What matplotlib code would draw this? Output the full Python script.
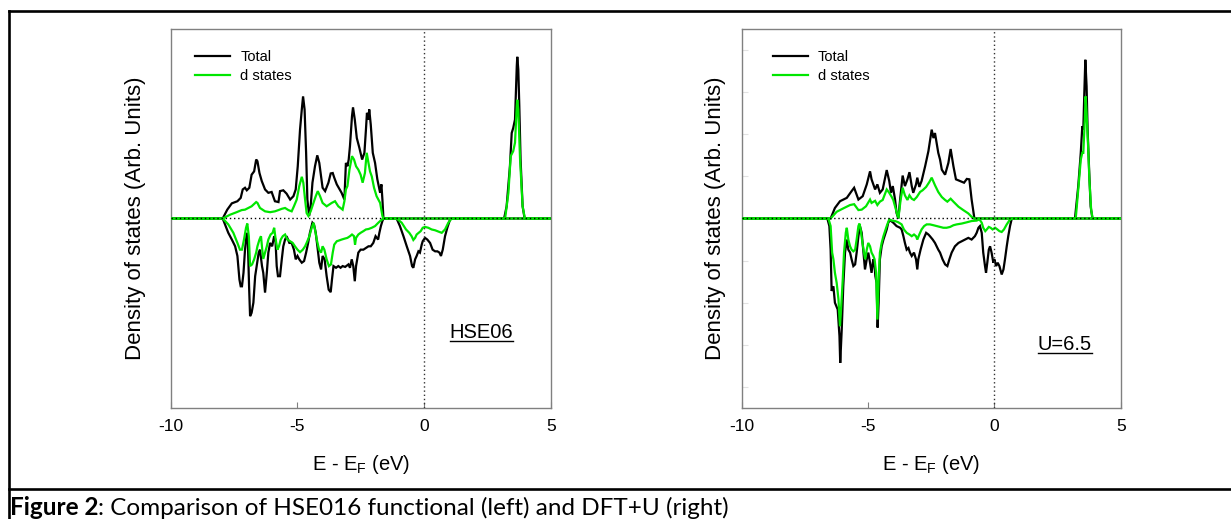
import matplotlib
matplotlib.use('Agg')
import matplotlib.pyplot as plt
from matplotlib.lines import Line2D

# ---------------- data (E - EF in eV, DOS in arb. units) ----------------
hse_up_total = [(-10, 0), (-7.95, 0), (-7.77, 0.21), (-7.59, 0.36), (-7.37, 0.41), (-7.24, 0.49), (-7.16, 0.69),
    (-7.07, 0.73), (-7.00, 0.67), (-6.90, 0.73), (-6.81, 1.04), (-6.71, 1.12), (-6.63, 1.40), (-6.58, 1.36),
    (-6.50, 1.08), (-6.41, 0.89), (-6.28, 0.69), (-6.15, 0.61), (-6.02, 0.63), (-5.89, 0.41), (-5.75, 0.39),
    (-5.69, 0.65), (-5.56, 0.67), (-5.43, 0.59), (-5.29, 0.45), (-5.16, 0.53), (-5.07, 0.69), (-4.99, 1.24),
    (-4.90, 2.11), (-4.83, 2.59), (-4.78, 2.90), (-4.72, 2.59), (-4.66, 1.56), (-4.61, 0.45), (-4.54, 0.06),
    (-4.48, 0.29), (-4.41, 0.85), (-4.31, 1.24), (-4.22, 1.50), (-4.14, 1.32), (-4.07, 1.00), (-4.01, 0.73),
    (-3.91, 0.65), (-3.78, 0.85), (-3.69, 1.07), (-3.61, 1.08), (-3.55, 0.97), (-3.45, 0.81), (-3.26, 0.61),
    (-3.15, 0.45), (-3.09, 1.32), (-3.03, 1.24), (-2.98, 1.40), (-2.93, 1.72), (-2.85, 2.43), (-2.81, 2.64),
    (-2.74, 2.35), (-2.66, 1.91), (-2.56, 1.68), (-2.45, 1.40), (-2.36, 1.56), (-2.30, 2.11), (-2.26, 2.51),
    (-2.20, 2.35), (-2.17, 2.59), (-2.11, 2.23), (-2.03, 1.56), (-1.94, 1.32), (-1.85, 0.93), (-1.74, 0.61),
    (-1.69, 0.81), (-1.65, 0.45), (-1.61, 0), (3.15, 0), (3.25, 0.29), (3.38, 1.24), (3.45, 2.03), (3.51, 2.15),
    (3.58, 2.35), (3.65, 3.62), (3.67, 3.84), (3.71, 3.54), (3.75, 2.67), (3.80, 1.40), (3.88, 0.29), (3.96, 0),
    (5, 0)]

hse_up_d = [(-10, 0), (-7.95, 0), (-7.66, 0.09), (-7.40, 0.15), (-7.20, 0.20), (-7.07, 0.21), (-6.94, 0.25),
    (-6.81, 0.29), (-6.63, 0.39), (-6.58, 0.37), (-6.48, 0.25), (-6.28, 0.17), (-6.08, 0.15), (-5.89, 0.17),
    (-5.75, 0.20), (-5.62, 0.23), (-5.49, 0.25), (-5.36, 0.20), (-5.23, 0.17), (-5.14, 0.29), (-5.03, 0.45),
    (-4.93, 0.77), (-4.83, 0.99), (-4.77, 0.85), (-4.70, 0.45), (-4.64, 0.13), (-4.57, 0.06), (-4.48, 0.17),
    (-4.37, 0.37), (-4.28, 0.53), (-4.20, 0.65), (-4.11, 0.53), (-4.01, 0.37), (-3.85, 0.29), (-3.65, 0.37),
    (-3.52, 0.41), (-3.39, 0.29), (-3.22, 0.21), (-3.15, 0.41), (-3.09, 0.69), (-3.03, 0.77), (-2.95, 1.16),
    (-2.85, 1.48), (-2.77, 1.40), (-2.69, 1.24), (-2.60, 1.16), (-2.51, 1.04), (-2.43, 0.85), (-2.34, 1.08),
    (-2.27, 1.56), (-2.20, 1.32), (-2.14, 1.12), (-2.07, 1.00), (-1.98, 0.73), (-1.88, 0.53), (-1.74, 0.37),
    (-1.65, 0.06), (-1.61, 0), (3.19, 0), (3.32, 0.61), (3.41, 1.48), (3.51, 1.60), (3.58, 1.80), (3.65, 2.67),
    (3.67, 2.82), (3.71, 2.59), (3.78, 1.40), (3.88, 0.29), (3.97, 0), (5, 0)]

hse_dn_total = [(-10, 0), (-7.95, 0), (-7.86, -0.14), (-7.73, -0.34), (-7.59, -0.50), (-7.46, -0.66), (-7.37, -0.89),
    (-7.29, -1.45), (-7.24, -1.61), (-7.19, -1.61), (-7.13, -1.29), (-7.07, -0.74), (-7.00, -0.34), (-6.96, -0.50),
    (-6.91, -1.61), (-6.87, -2.32), (-6.81, -2.24), (-6.74, -2.00), (-6.67, -1.37), (-6.61, -1.13), (-6.53, -0.81),
    (-6.48, -0.74), (-6.40, -1.13), (-6.35, -1.29), (-6.28, -1.76), (-6.21, -1.29), (-6.15, -0.81), (-6.08, -0.58),
    (-6.00, -0.66), (-5.92, -0.42), (-5.87, -0.50), (-5.82, -1.13), (-5.77, -1.37), (-5.69, -1.37), (-5.62, -0.97),
    (-5.56, -0.66), (-5.49, -0.50), (-5.43, -0.42), (-5.32, -0.58), (-5.23, -0.58), (-5.14, -0.74), (-5.07, -0.97),
    (-5.00, -0.89), (-4.93, -0.97), (-4.83, -1.05), (-4.74, -1.01), (-4.66, -0.81), (-4.58, -0.58), (-4.51, -0.34),
    (-4.41, -0.10), (-4.35, -0.14), (-4.28, -0.34), (-4.20, -0.74), (-4.14, -1.05), (-4.07, -1.21), (-4.01, -0.89),
    (-3.93, -0.97), (-3.85, -1.37), (-3.77, -1.69), (-3.69, -1.75), (-3.64, -1.45), (-3.58, -1.13), (-3.48, -1.17),
    (-3.39, -1.13), (-3.30, -1.17), (-3.22, -1.13), (-3.12, -1.15), (-2.99, -1.09), (-2.93, -1.17), (-2.86, -0.97),
    (-2.80, -1.13), (-2.74, -1.49), (-2.69, -1.13), (-2.60, -0.81), (-2.51, -0.74), (-2.40, -0.74), (-2.30, -0.70),
    (-2.20, -0.66), (-2.11, -0.66), (-2.01, -0.58), (-1.92, -0.42), (-1.82, -0.50), (-1.77, -0.34), (-1.71, -0.18),
    (-1.65, -0.06), (-1.61, 0), (-1.09, 0), (-0.96, -0.18), (-0.82, -0.42), (-0.69, -0.66), (-0.56, -0.89),
    (-0.48, -1.13), (-0.43, -1.17), (-0.36, -0.97), (-0.30, -0.89), (-0.23, -0.78), (-0.17, -0.81), (-0.10, -0.62),
    (-0.06, -0.54), (0.03, -0.46), (0.12, -0.50), (0.23, -0.58), (0.33, -0.74), (0.43, -0.78), (0.52, -0.78),
    (0.60, -0.81), (0.66, -0.89), (0.73, -0.74), (0.82, -0.42), (0.91, -0.22), (1.02, -0.02), (1.08, 0), (5, 0)]

hse_dn_d = [(-10, 0), (-7.95, 0), (-7.73, -0.14), (-7.53, -0.34), (-7.37, -0.58), (-7.27, -0.74), (-7.19, -0.74),
    (-7.11, -0.50), (-7.03, -0.22), (-6.98, -0.12), (-6.92, -0.42), (-6.87, -1.13), (-6.79, -1.09), (-6.71, -0.97),
    (-6.63, -0.81), (-6.58, -0.66), (-6.50, -0.50), (-6.44, -0.42), (-6.39, -0.74), (-6.35, -0.96), (-6.28, -0.81),
    (-6.21, -0.66), (-6.15, -0.50), (-6.06, -0.38), (-5.98, -0.34), (-5.92, -0.22), (-5.86, -0.50), (-5.79, -0.74),
    (-5.73, -0.66), (-5.66, -0.50), (-5.58, -0.42), (-5.49, -0.38), (-5.40, -0.50), (-5.29, -0.54), (-5.19, -0.58),
    (-5.10, -0.66), (-5.00, -0.74), (-4.90, -0.80), (-4.79, -0.74), (-4.70, -0.66), (-4.64, -0.58), (-4.53, -0.42),
    (-4.44, -0.22), (-4.37, -0.10), (-4.31, -0.26), (-4.24, -0.50), (-4.15, -0.74), (-4.07, -0.81), (-4.01, -0.66),
    (-3.94, -0.74), (-3.85, -0.97), (-3.76, -1.13), (-3.68, -1.09), (-3.61, -0.81), (-3.55, -0.62), (-3.45, -0.54),
    (-3.35, -0.52), (-3.26, -0.50), (-3.15, -0.48), (-3.03, -0.46), (-2.93, -0.42), (-2.85, -0.38), (-2.77, -0.42),
    (-2.73, -0.62), (-2.69, -0.46), (-2.60, -0.38), (-2.51, -0.34), (-2.40, -0.30), (-2.30, -0.26), (-2.20, -0.25),
    (-2.07, -0.22), (-1.94, -0.18), (-1.81, -0.10), (-1.72, -0.05), (-1.61, 0), (-1.09, 0), (-0.89, -0.10),
    (-0.72, -0.26), (-0.59, -0.34), (-0.50, -0.42), (-0.43, -0.51), (-0.36, -0.46), (-0.30, -0.38), (-0.22, -0.34),
    (-0.14, -0.30), (-0.06, -0.22), (0.03, -0.20), (0.16, -0.22), (0.29, -0.26), (0.43, -0.28), (0.60, -0.32),
    (0.69, -0.34), (0.82, -0.26), (0.95, -0.10), (1.08, 0), (5, 0)]

u_up_total = [(-10, 0), (-6.48, 0), (-6.31, 0.25), (-6.11, 0.41), (-5.84, 0.49), (-5.65, 0.65), (-5.55, 0.73),
    (-5.38, 0.45), (-5.21, 0.53), (-5.05, 0.81), (-4.92, 1.12), (-4.86, 0.93), (-4.72, 0.69), (-4.63, 0.81),
    (-4.53, 0.61), (-4.42, 0.69), (-4.26, 1.15), (-4.16, 0.89), (-4.09, 0.61), (-4.02, 0.77), (-3.93, 0.45),
    (-3.87, 0.13), (-3.80, 0), (-3.73, 0.45), (-3.63, 1.02), (-3.54, 0.77), (-3.44, 0.93), (-3.36, 1.10),
    (-3.27, 0.77), (-3.21, 0.61), (-3.10, 0.81), (-3.05, 0.97), (-2.97, 0.75), (-2.88, 0.89), (-2.74, 1.24),
    (-2.61, 1.60), (-2.48, 2.11), (-2.41, 1.91), (-2.35, 2.03), (-2.22, 1.56), (-2.15, 1.40), (-2.08, 1.16),
    (-1.95, 1.04), (-1.82, 1.32), (-1.73, 1.65), (-1.62, 1.24), (-1.52, 0.93), (-1.36, 0.89), (-1.20, 0.85),
    (-1.09, 0.94), (-0.99, 0.93), (-0.90, 0.45), (-0.79, 0), (3.19, 0), (3.32, 0.77), (3.42, 1.56), (3.48, 2.19),
    (3.52, 2.11), (3.56, 2.98), (3.60, 3.77), (3.65, 3.14), (3.69, 2.11), (3.75, 1.16), (3.81, 0.29), (3.88, 0),
    (5, 0)]

u_up_d = [(-10, 0), (-6.48, 0), (-6.24, 0.16), (-5.98, 0.24), (-5.71, 0.32), (-5.55, 0.34), (-5.38, 0.20),
    (-5.25, 0.21), (-5.08, 0.29), (-4.92, 0.45), (-4.86, 0.37), (-4.72, 0.42), (-4.63, 0.32), (-4.53, 0.40),
    (-4.42, 0.44), (-4.26, 0.69), (-4.16, 0.61), (-4.06, 0.51), (-4.00, 0.44), (-3.89, 0.20), (-3.80, 0),
    (-3.71, 0.44), (-3.63, 0.73), (-3.54, 0.55), (-3.44, 0.44), (-3.36, 0.55), (-3.27, 0.47), (-3.18, 0.44),
    (-3.07, 0.51), (-2.94, 0.63), (-2.84, 0.67), (-2.70, 0.75), (-2.57, 0.87), (-2.48, 0.97), (-2.35, 0.79),
    (-2.22, 0.63), (-2.08, 0.51), (-1.95, 0.44), (-1.86, 0.40), (-1.73, 0.47), (-1.62, 0.40), (-1.42, 0.28),
    (-1.23, 0.20), (-1.03, 0.12), (-0.90, 0.04), (-0.79, 0), (3.22, 0), (3.32, 0.69), (3.42, 1.40), (3.48, 1.56),
    (3.52, 1.56), (3.58, 2.35), (3.61, 2.90), (3.65, 2.51), (3.71, 1.72), (3.76, 0.93), (3.83, 0.21), (3.89, 0),
    (5, 0)]

u_dn_total = [(-10, 0), (-6.61, 0), (-6.53, -0.18), (-6.48, -0.74), (-6.44, -1.72), (-6.37, -1.61), (-6.31, -2.00),
    (-6.20, -2.16), (-6.13, -2.79), (-6.10, -3.43), (-6.04, -2.63), (-5.98, -1.61), (-5.91, -0.81), (-5.84, -0.50),
    (-5.78, -0.74), (-5.71, -0.81), (-5.65, -0.97), (-5.58, -1.13), (-5.51, -1.09), (-5.45, -0.81), (-5.38, -0.42),
    (-5.32, -0.18), (-5.25, -0.34), (-5.18, -0.81), (-5.12, -1.21), (-5.05, -0.97), (-4.99, -0.81), (-4.92, -1.05),
    (-4.86, -1.29), (-4.79, -0.97), (-4.75, -1.05), (-4.71, -1.37), (-4.66, -1.53), (-4.62, -2.59), (-4.58, -2.00),
    (-4.53, -0.97), (-4.46, -0.66), (-4.39, -0.50), (-4.26, -0.26), (-4.20, -0.10), (-4.13, -0.04), (-4.00, -0.10),
    (-3.87, -0.18), (-3.73, -0.22), (-3.67, -0.26), (-3.60, -0.42), (-3.54, -0.58), (-3.47, -0.74), (-3.40, -0.70),
    (-3.34, -0.81), (-3.27, -0.89), (-3.18, -0.81), (-3.10, -0.97), (-3.05, -1.21), (-3.01, -0.97), (-2.92, -0.74),
    (-2.81, -0.50), (-2.70, -0.34), (-2.61, -0.38), (-2.55, -0.42), (-2.44, -0.50), (-2.35, -0.58), (-2.22, -0.74),
    (-2.15, -0.81), (-2.05, -0.97), (-1.95, -1.09), (-1.86, -1.13), (-1.78, -0.97), (-1.69, -0.81), (-1.56, -0.66),
    (-1.42, -0.58), (-1.29, -0.54), (-1.16, -0.50), (-1.03, -0.46), (-0.90, -0.50), (-0.77, -0.42), (-0.70, -0.34),
    (-0.63, -0.22), (-0.57, -0.18), (-0.50, -0.34), (-0.44, -0.81), (-0.37, -1.13), (-0.33, -1.29), (-0.28, -1.05),
    (-0.22, -0.74), (-0.17, -0.66), (-0.11, -0.81), (-0.04, -1.05), (0.00, -0.97), (0.07, -1.13), (0.13, -1.05),
    (0.20, -1.13), (0.29, -1.33), (0.36, -1.21), (0.42, -0.97), (0.49, -0.66), (0.55, -0.42), (0.62, -0.18),
    (0.69, 0), (5, 0)]

u_dn_d = [(-10, 0), (-6.57, 0), (-6.48, -0.18), (-6.42, -0.81), (-6.37, -0.97), (-6.31, -1.29), (-6.24, -1.53),
    (-6.17, -1.92), (-6.11, -2.56), (-6.06, -2.08), (-6.00, -1.45), (-5.95, -0.81), (-5.88, -0.34), (-5.84, -0.22),
    (-5.78, -0.50), (-5.71, -0.66), (-5.65, -0.74), (-5.58, -0.78), (-5.51, -0.74), (-5.45, -0.50), (-5.38, -0.18),
    (-5.34, -0.12), (-5.29, -0.26), (-5.22, -0.58), (-5.16, -0.81), (-5.11, -0.97), (-5.05, -0.74), (-4.99, -0.58),
    (-4.92, -0.66), (-4.86, -0.81), (-4.79, -0.89), (-4.74, -0.97), (-4.68, -1.29), (-4.63, -2.40), (-4.58, -1.45),
    (-4.53, -0.81), (-4.46, -0.58), (-4.39, -0.42), (-4.26, -0.18), (-4.16, -0.02), (-4.06, -0.05), (-3.93, -0.06),
    (-3.80, -0.09), (-3.67, -0.14), (-3.58, -0.26), (-3.47, -0.34), (-3.36, -0.38), (-3.27, -0.42), (-3.18, -0.38),
    (-3.10, -0.42), (-3.05, -0.50), (-2.97, -0.38), (-2.88, -0.26), (-2.78, -0.18), (-2.68, -0.14), (-2.55, -0.14),
    (-2.41, -0.16), (-2.28, -0.18), (-2.15, -0.20), (-2.02, -0.22), (-1.89, -0.22), (-1.75, -0.20), (-1.62, -0.16),
    (-1.49, -0.14), (-1.29, -0.12), (-1.09, -0.09), (-0.90, -0.06), (-0.70, -0.05), (-0.59, -0.02), (-0.50, -0.10),
    (-0.44, -0.22), (-0.36, -0.30), (-0.30, -0.26), (-0.22, -0.20), (-0.15, -0.22), (-0.07, -0.26), (0.03, -0.22),
    (0.12, -0.26), (0.20, -0.30), (0.29, -0.32), (0.38, -0.26), (0.49, -0.14), (0.59, -0.05), (0.69, 0), (5, 0)]

x_ticks = [-10, -5, 0, 5]
legend_labels = ['Total', 'd states']
panel_tags = ['HSE06', 'U=6.5']
caption_bold = 'Figure 2'
caption_rest = ': Comparison of HSE016 functional (left) and DFT+U (right)'

# ---------------- figure ----------------
plt.rcParams['font.family'] = ['Liberation Sans', 'DejaVu Sans']
W, H = 1231, 519
fig = plt.figure(figsize=(W / 100, H / 100), dpi=100)

GREEN = '#00e600'
FRAME = '#808080'


def panel(rect, up_tot, dn_tot, up_d, dn_d, tag, tag_xy, leg_x, ylab_x, faint):
    ax = fig.add_axes(rect)
    lines = []
    for s in (up_tot, dn_tot):
        e, v = zip(*s)
        l, = ax.plot(e, v, color='black', lw=1.6, zorder=2, solid_joinstyle='miter')
        lines.append(l)
    for s in (up_d, dn_d):
        e, v = zip(*s)
        l, = ax.plot(e, v, color=GREEN, lw=1.6, zorder=3, solid_joinstyle='miter')
        lines.append(l)
    ax.axhline(0, color='black', lw=1.0, ls=(0, (1, 2)), zorder=4)
    ax.axvline(0, color='#333333', lw=1.0, ls=(0, (1, 2)), zorder=4)
    ax.set_xlim(-10, 5)
    ax.set_ylim(-4.5, 4.5)
    ax.set_xticks(x_ticks)
    ax.set_xticklabels([str(t) for t in x_ticks])
    ax.tick_params(axis='x', direction='in', length=4, color=FRAME, labelsize=12.5, pad=8)
    if faint:
        ax.set_yticks(range(-4, 5))
        ax.set_yticklabels([])
        ax.tick_params(axis='y', direction='in', length=4, color='#e2e2e2')
    else:
        ax.set_yticks([])
    for sp in ax.spines.values():
        sp.set_color(FRAME)
        sp.set_linewidth(1.0)
    ax.set_xlabel('E - E$_\\mathregular{F}$ (eV)', fontsize=14.5)
    ax.xaxis.set_label_coords(0.5, -0.12)
    ax.set_ylabel('Density of states (Arb. Units)', fontsize=16)
    ax.yaxis.set_label_coords(ylab_x, 0.5)
    ax.legend([lines[0], lines[2]], legend_labels, loc='upper left',
              bbox_to_anchor=(leg_x, 0.945), frameon=False, fontsize=10.5,
              handlelength=2.4, handletextpad=0.7, labelspacing=0.35,
              borderpad=0, borderaxespad=0)
    t = ax.text(tag_xy[0], tag_xy[1], tag, fontsize=14.5, ha='center', va='center', zorder=5)
    return ax, t


axL, tL = panel([0.1387, 0.2139, 0.3089, 0.7302], hse_up_total, hse_dn_total, hse_up_d, hse_dn_d,
                panel_tags[0], (2.26, -2.71), 0.064, -0.0645, False)
axR, tR = panel([0.6025, 0.2139, 0.3079, 0.7302], u_up_total, u_dn_total, u_up_d, u_dn_d,
                panel_tags[1], (2.79, -2.99), 0.082, -0.042, True)

# underline the panel tags
fig.canvas.draw()
r = fig.canvas.get_renderer()
for t in (tL, tR):
    bb = t.get_window_extent(r)
    inv = fig.transFigure.inverted()
    (x0, y0) = inv.transform((bb.x0, bb.y0 + 1))
    (x1, _) = inv.transform((bb.x1, bb.y0 + 1))
    fig.add_artist(Line2D([x0, x1], [y0, y0], color='black', lw=1.0, transform=fig.transFigure))

# page borders (figure box + caption separator)
bw = 1.9
fig.add_artist(Line2D([0.0076, 1.0], [0.978, 0.978], color='black', lw=bw, transform=fig.transFigure))
fig.add_artist(Line2D([0.0076, 0.0076], [0.0, 0.978], color='black', lw=bw, transform=fig.transFigure))
fig.add_artist(Line2D([0.0076, 1.0], [0.0584, 0.0584], color='black', lw=bw, transform=fig.transFigure))

# caption
cap_font = ['Lato', 'DejaVu Sans']
tb = fig.text(10 / W, 4 / H, caption_bold, fontsize=17.5, fontweight='bold', family=cap_font, va='baseline')
fig.canvas.draw()
bb = tb.get_window_extent(fig.canvas.get_renderer())
fig.text(bb.x1 / W, 4 / H, caption_rest, fontsize=17.5, family=cap_font, va='baseline')

fig.savefig('out.png', dpi=100)
